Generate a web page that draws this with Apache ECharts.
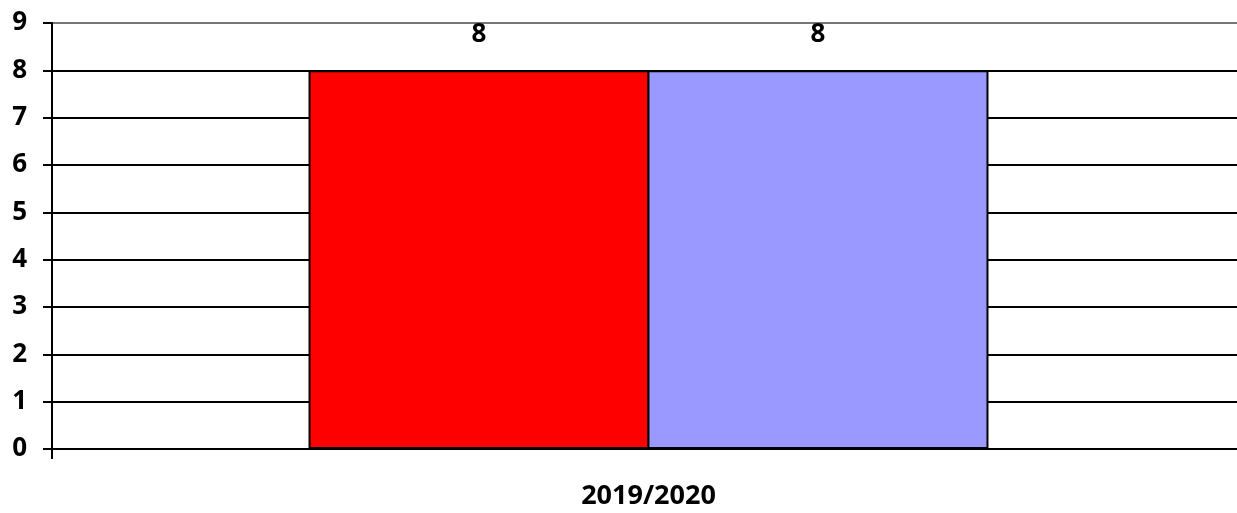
<!DOCTYPE html>
<html>
<head>
<meta charset="utf-8">
<script src="https://cdn.jsdelivr.net/npm/echarts@6/dist/echarts.min.js"></script>
<style>html,body{margin:0;padding:0;background:#fff;overflow:hidden}#c{width:1245px;height:513px}</style>
</head>
<body>
<div id="c"></div>
<script>
const categories = ['2019/2020'];
const seriesA = [8];
const seriesB = [8];
const yTicks = [0, 1, 2, 3, 4, 5, 6, 7, 8, 9];

const chart = echarts.init(document.getElementById('c'));
const font = '"Open Sans", "Liberation Sans", sans-serif';
chart.setOption({
  animation: false,
  grid: { left: 52, right: 0, top: 23, bottom: 64, containLabel: false },
  xAxis: {
    type: 'category',
    data: categories,
    axisLine: { show: true, lineStyle: { color: '#000', width: 2 } },
    axisTick: { show: true, length: 10, lineStyle: { color: '#000', width: 2 } },
    axisLabel: { color: '#000', fontFamily: font, fontWeight: 'bold', fontSize: 27, margin: 34 }
  },
  yAxis: {
    type: 'value',
    min: yTicks[0],
    max: yTicks[yTicks.length - 1],
    interval: 1,
    axisLine: { show: true, lineStyle: { color: '#000', width: 2 } },
    axisTick: { show: true, length: 9, lineStyle: { color: '#000', width: 2 } },
    axisLabel: { color: '#000', fontFamily: font, fontWeight: 'bold', fontSize: 26, margin: 25 },
    splitLine: { show: true, lineStyle: { color: ['#000','#000','#000','#000','#000','#000','#000','#000','#000','#777'], width: 2 } }
  },
  series: [
    {
      type: 'bar', data: seriesA, barWidth: 341, barGap: '-0.6%',
      itemStyle: { color: '#FF0000', borderColor: '#000', borderWidth: 2 },
      label: { show: true, position: 'top', distance: 23, color: '#000', fontFamily: font, fontWeight: 'bold', fontSize: 26 }
    },
    {
      type: 'bar', data: seriesB, barWidth: 341, barGap: '-0.6%',
      itemStyle: { color: '#9999FF', borderColor: '#000', borderWidth: 2 },
      label: { show: true, position: 'top', distance: 23, color: '#000', fontFamily: font, fontWeight: 'bold', fontSize: 26 }
    }
  ]
});
</script>
</body>
</html>
